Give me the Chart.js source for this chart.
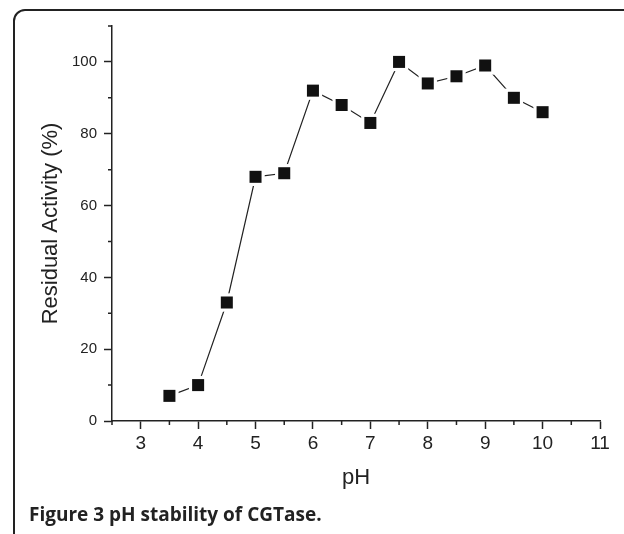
<!DOCTYPE html>
<html>
<head>
<meta charset="utf-8">
<script src="https://cdn.jsdelivr.net/npm/chart.js@4/dist/chart.umd.min.js"></script>
<style>
  html, body { margin: 0; padding: 0; background: #fff; overflow: hidden; width: 624px; height: 534px; }
  #frame { position: absolute; left: 13px; top: 9px; width: 700px; height: 620px;
           border: 2px solid #222; border-radius: 12px; box-sizing: border-box; }
  #chart { position: absolute; left: 0; top: 0; }
  #caption { position: absolute; left: 29px; top: 505px; font-family: "Open Sans", sans-serif;
             font-weight: 700; font-size: 19px; line-height: 19px; color: #222; white-space: nowrap; }
</style>
</head>
<body>
<div id="frame"></div>
<canvas id="chart" width="624" height="534"></canvas>
<div id="caption">Figure 3 pH stability of CGTase.</div>
<script>
// pH stability data
const phValues = [3.5, 4, 4.5, 5, 5.5, 6, 6.5, 7, 7.5, 8, 8.5, 9, 9.5, 10]
const activity = [7, 10, 33, 68, 69, 92, 88, 83, 100, 94, 96, 99, 90, 86]
const xLabels = [3, 4, 5, 6, 7, 8, 9, 10, 11]
const yLabels = [0, 20, 40, 60, 80, 100]

const points = phValues.map((x, i) => ({ x: x, y: activity[i] }))
const ink = '#222'
const font = 'Liberation Sans, Arial, sans-serif'

// short minor ticks, drawn through the scales
const minorTicks = {
    id: 'minorTicks',
    afterDraw(chart) {
        const ctx = chart.ctx
        const xs = chart.scales.x
        const ys = chart.scales.y
        ctx.save()
        ctx.strokeStyle = ink
        ctx.lineWidth = 1.5
        ctx.beginPath()
        xs.ticks.forEach(t => {
            if (xLabels.includes(t.value)) return
            const px = xs.getPixelForValue(t.value)
            ctx.moveTo(px, xs.top)
            ctx.lineTo(px, xs.top + 4)
        })
        ys.ticks.forEach(t => {
            if (yLabels.includes(t.value)) return
            const py = ys.getPixelForValue(t.value)
            ctx.moveTo(ys.right, py)
            ctx.lineTo(ys.right - 4, py)
        })
        ctx.stroke()
        ctx.restore()
    }
}

new Chart(document.getElementById('chart'), {
    type: 'scatter',
    data: {
        datasets: [{
            // black squares on top
            data: points,
            showLine: false,
            pointStyle: 'rect',
            pointRadius: 8.5,
            pointBackgroundColor: '#111',
            pointBorderWidth: 0,
            order: 0
        }, {
            // line with white gaps around the markers
            data: points,
            showLine: true,
            borderColor: ink,
            borderWidth: 1.2,
            pointStyle: 'rect',
            pointRadius: 13,
            pointBackgroundColor: '#fff',
            pointBorderWidth: 0,
            order: 1
        }]
    },
    options: {
        responsive: false,
        animation: false,
        clip: false,
        layout: { padding: { left: 0, top: 26, right: 24, bottom: 38 } },
        plugins: { legend: { display: false }, tooltip: { enabled: false } },
        scales: {
            x: {
                type: 'linear',
                min: 2.5,
                max: 11,
                afterFit: s => { s.height = 75 },
                ticks: {
                    stepSize: 0.5,
                    padding: 3,
                    color: ink,
                    font: { family: font, size: 19 },
                    maxRotation: 0,
                    autoSkip: false,
                    callback: v => xLabels.includes(v) ? String(v) : ''
                },
                grid: {
                    drawOnChartArea: false,
                    tickLength: 8,
                    tickWidth: 1.5,
                    tickColor: c => xLabels.includes(c.tick.value) ? ink : 'rgba(0,0,0,0)'
                },
                border: { color: ink, width: 1.5 },
                title: {
                    display: true,
                    text: 'pH',
                    color: ink,
                    font: { family: font, size: 22 },
                    padding: { top: 0, bottom: 5 }
                }
            },
            y: {
                min: 0,
                max: 110,
                afterFit: s => { s.width = 112 },
                ticks: {
                    stepSize: 10,
                    padding: 7,
                    color: ink,
                    font: { family: font, size: 15 },
                    autoSkip: false,
                    callback: v => yLabels.includes(v) ? String(v) : ''
                },
                grid: {
                    drawOnChartArea: false,
                    tickLength: 8,
                    tickWidth: 1.5,
                    tickColor: c => yLabels.includes(c.tick.value) ? ink : 'rgba(0,0,0,0)'
                },
                border: { color: ink, width: 1.5 },
                title: {
                    display: true,
                    text: 'Residual Activity (%)',
                    color: ink,
                    font: { family: font, size: 22 },
                    padding: { top: 38, bottom: 0 }
                }
            }
        }
    },
    plugins: [minorTicks]
})
</script>
</body>
</html>
